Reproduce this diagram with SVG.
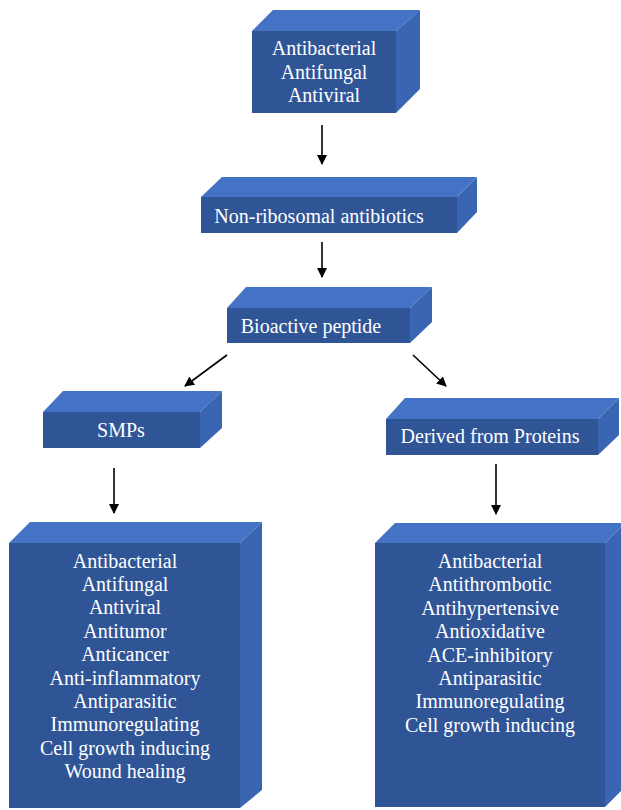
<svg xmlns="http://www.w3.org/2000/svg" width="621" height="810" viewBox="0 0 621 810">
<style>
.front{fill:#2F5597;}
.top{fill:#4472C4;}
.side{fill:#3A65B3;}
.t{font-family:"Liberation Serif","Times New Roman",serif;font-size:20px;fill:#FFFFFF;text-anchor:middle;}
.c{stroke:#000;stroke-width:1.6;fill:none;marker-end:url(#ah);}
</style>
<defs>
<marker id="ah" markerWidth="10" markerHeight="10" refX="9" refY="5" orient="auto" markerUnits="userSpaceOnUse">
<path d="M0,0 L10,5 L0,10 Z" fill="#000"/>
</marker>
</defs>
<rect width="621" height="810" fill="#fff"/>
<g id="connectors">
<line class="c" x1="322" y1="125" x2="322" y2="164"/>
<line class="c" x1="322" y1="242" x2="322" y2="277"/>
<line class="c" x1="227" y1="355" x2="185" y2="386"/>
<line class="c" x1="413" y1="355" x2="446" y2="386"/>
<line class="c" x1="114" y1="468" x2="114" y2="513"/>
<line class="c" x1="496" y1="464" x2="496" y2="514"/>
</g>
<g id="n1">
<polygon class="top" points="252,31 273,10 420,10 396,31"/>
<polygon class="side" points="396,31 420,10 420,89 396,113"/>
<rect class="front" x="252" y="31" width="144" height="82"/>
<text class="t" x="324" y="55">Antibacterial</text>
<text class="t" x="324" y="79">Antifungal</text>
<text class="t" x="324" y="102">Antiviral</text>
</g>
<g id="n2">
<polygon class="top" points="201,197 222,177 477,177 457,197"/>
<polygon class="side" points="457,197 477,177 477,212 457,233"/>
<rect class="front" x="201" y="197" width="256" height="36"/>
<text class="t" x="319" y="223">Non-ribosomal antibiotics</text>
</g>
<g id="n3">
<polygon class="top" points="227,308 246,287 432,287 410,308"/>
<polygon class="side" points="410,308 432,287 432,322 410,343"/>
<rect class="front" x="227" y="308" width="183" height="35"/>
<text class="t" x="311" y="333">Bioactive peptide</text>
</g>
<g id="n4">
<polygon class="top" points="43,412 63,391 222,391 200,412"/>
<polygon class="side" points="200,412 222,391 222,428 200,448"/>
<rect class="front" x="43" y="412" width="157" height="36"/>
<text class="t" x="121" y="437">SMPs</text>
</g>
<g id="n5">
<polygon class="top" points="386,419 405,398 619,398 598,419"/>
<polygon class="side" points="598,419 619,398 619,435 598,455"/>
<rect class="front" x="386" y="419" width="212" height="36"/>
<text class="t" x="490" y="443">Derived from Proteins</text>
</g>
<g id="n6">
<polygon class="top" points="9,543 30,522 262,522 240,543"/>
<polygon class="side" points="240,543 262,522 262,790 240,808"/>
<rect class="front" x="9" y="543" width="231" height="265"/>
<text class="t" x="125" y="568">Antibacterial</text>
<text class="t" x="125" y="591">Antifungal</text>
<text class="t" x="125" y="614">Antiviral</text>
<text class="t" x="125" y="638">Antitumor</text>
<text class="t" x="125" y="661">Anticancer</text>
<text class="t" x="125" y="685">Anti-inflammatory</text>
<text class="t" x="125" y="708">Antiparasitic</text>
<text class="t" x="125" y="731">Immunoregulating</text>
<text class="t" x="125" y="755">Cell growth inducing</text>
<text class="t" x="125" y="778">Wound healing</text>
</g>
<g id="n7">
<polygon class="top" points="375,543 395,523 625,523 605,543"/>
<polygon class="side" points="605,543 625,523 625,787 605,807"/>
<rect class="front" x="375" y="543" width="230" height="264"/>
<text class="t" x="490" y="568">Antibacterial</text>
<text class="t" x="490" y="591">Antithrombotic</text>
<text class="t" x="490" y="615">Antihypertensive</text>
<text class="t" x="490" y="638">Antioxidative</text>
<text class="t" x="490" y="662">ACE-inhibitory</text>
<text class="t" x="490" y="685">Antiparasitic</text>
<text class="t" x="490" y="708">Immunoregulating</text>
<text class="t" x="490" y="732">Cell growth inducing</text>
</g>
</svg>
